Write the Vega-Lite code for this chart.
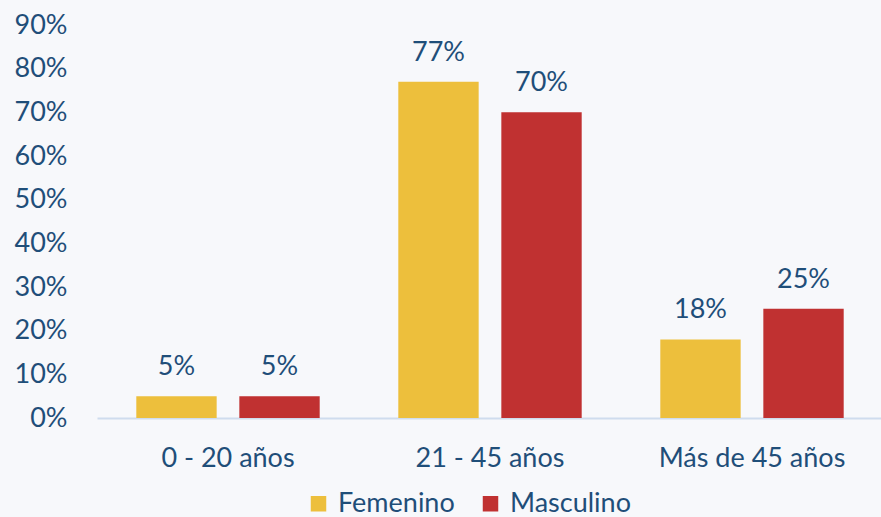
{
  "$schema": "https://vega.github.io/schema/vega-lite/v6.json",
  "width": 786,
  "height": 393,
  "autosize": {"type": "none"},
  "padding": {"left": 97, "top": 25, "right": 0, "bottom": 99},
  "background": "#F7F8FB",
  "config": {
    "view": {"stroke": null},
    "font": "Lato",
    "text": {"font": "Lato"}
  },
  "data": {
    "values": [
      {"grupo": "0 - 20 años", "sexo": "Femenino", "valor": 0.05},
      {"grupo": "0 - 20 años", "sexo": "Masculino", "valor": 0.05},
      {"grupo": "21 - 45 años", "sexo": "Femenino", "valor": 0.77},
      {"grupo": "21 - 45 años", "sexo": "Masculino", "valor": 0.70},
      {"grupo": "Más de 45 años", "sexo": "Femenino", "valor": 0.18},
      {"grupo": "Más de 45 años", "sexo": "Masculino", "valor": 0.25}
    ]
  },
  "encoding": {
    "x": {
      "field": "grupo", "type": "nominal", "sort": null,
      "scale": {"paddingInner": 0.3, "paddingOuter": 0.15},
      "axis": {
        "title": null, "labelAngle": 0, "labelFontSize": 27, "labelColor": "#1F4E79",
        "labelFont": "Lato", "ticks": false, "domainColor": "#CFDCEE", "domainWidth": 2,
        "labelPadding": 27, "labelLimit": 0
      }
    },
    "xOffset": {"field": "sexo", "type": "nominal", "scale": {"paddingInner": 0.22}},
    "y": {
      "field": "valor", "type": "quantitative",
      "scale": {"domain": [0, 0.9]},
      "axis": {
        "title": null, "format": ".0%", "values": [0, 0.1, 0.2, 0.3, 0.4, 0.5, 0.6, 0.7, 0.8, 0.9],
        "grid": false, "domain": false, "ticks": false, "labelFontSize": 27,
        "labelColor": "#1F4E79", "labelFont": "Lato", "labelPadding": 30
      }
    }
  },
  "layer": [
    {
      "mark": {"type": "bar"},
      "encoding": {
        "color": {
          "field": "sexo", "type": "nominal",
          "scale": {"domain": ["Femenino", "Masculino"], "range": ["#EDBF3C", "#C03131"]},
          "legend": {
            "title": null, "orient": "none", "direction": "horizontal",
            "legendX": 208, "legendY": 465, "symbolType": "square", "symbolSize": 240,
            "labelFontSize": 27, "labelColor": "#1F4E79", "labelFont": "Lato",
            "columnPadding": 22, "labelOffset": 6, "symbolOpacity": 1, "labelLimit": 0
          }
        }
      }
    },
    {
      "mark": {"type": "text", "baseline": "alphabetic", "dy": -21, "fontSize": 27, "color": "#1F4E79", "font": "Lato"},
      "encoding": {
        "text": {"field": "valor", "type": "quantitative", "format": ".0%"}
      }
    }
  ]
}
